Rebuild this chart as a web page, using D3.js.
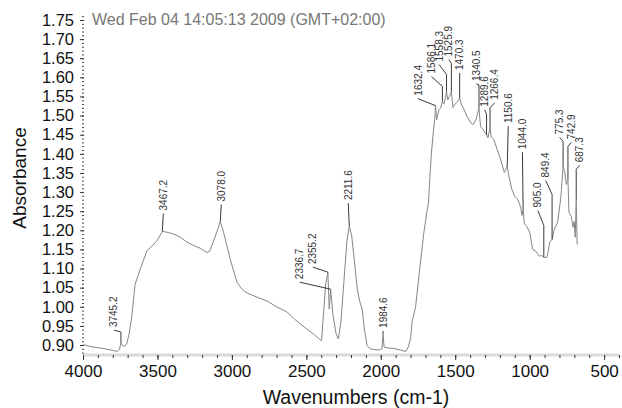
<!DOCTYPE html>
<html>
<head>
<meta charset="utf-8">
<script src="https://cdn.jsdelivr.net/npm/d3@7"></script>
<style>
  body { margin: 0; background: #fff; }
  text { font-family: "Liberation Sans", Arial, Helvetica, sans-serif; }
</style>
</head>
<body>
<svg id="main-svg" width="622" height="408"></svg>
<script>
// spectrum: [wavenumber cm-1, absorbance]
const spectrum = [
  [4000, 0.901], [3960, 0.897], [3920, 0.894], [3880, 0.892], [3840, 0.889], [3800, 0.886],
  [3770, 0.883], [3755, 0.889], [3745.2, 0.905], [3735, 0.899], [3720, 0.896], [3705, 0.905],
  [3690, 0.929], [3672, 0.976], [3650, 1.059], [3616, 1.098], [3571, 1.146], [3504, 1.172],
  [3467.2, 1.197], [3437, 1.195], [3390, 1.190], [3347, 1.182], [3302, 1.169], [3255, 1.160],
  [3213, 1.153], [3168, 1.142], [3150, 1.145], [3123, 1.172], [3090, 1.208], [3078.0, 1.223],
  [3056, 1.195], [3011, 1.124], [2966, 1.064], [2930, 1.045], [2898, 1.036], [2830, 1.025],
  [2764, 1.015], [2700, 1.000], [2629, 0.986], [2580, 0.968], [2540, 0.955], [2490, 0.940],
  [2452, 0.929], [2420, 0.918], [2398, 0.911], [2385, 0.980], [2370, 1.060], [2355.2, 1.088],
  [2346, 0.994], [2336.7, 1.046], [2322, 0.981], [2300, 0.929], [2285, 0.916], [2268, 0.960],
  [2248, 1.064], [2228, 1.170], [2211.6, 1.211], [2195, 1.185], [2175, 1.111], [2158, 1.046],
  [2140, 1.012], [2125, 0.994], [2110, 0.942], [2092, 0.898], [2070, 0.890], [2040, 0.888],
  [2010, 0.887], [1992, 0.890], [1984.6, 0.929], [1978, 0.895], [1950, 0.892], [1912, 0.891],
  [1870, 0.887], [1833, 0.883], [1815, 0.895], [1800, 0.916], [1790, 0.960], [1766, 1.000],
  [1739, 1.098], [1712, 1.190], [1690, 1.250], [1680, 1.270], [1671, 1.333], [1660, 1.402],
  [1645, 1.465], [1638, 1.490], [1632.4, 1.526], [1625, 1.489], [1610, 1.515], [1598, 1.520],
  [1586.1, 1.537], [1575, 1.531], [1565, 1.549], [1558.3, 1.563], [1550, 1.541], [1540, 1.549],
  [1525.9, 1.563], [1515, 1.521], [1500, 1.531], [1485, 1.536], [1470.3, 1.546], [1460, 1.531],
  [1440, 1.515], [1420, 1.497], [1395, 1.481], [1382, 1.476], [1360, 1.490], [1340.5, 1.520],
  [1330, 1.471], [1312, 1.463], [1300, 1.455], [1289.6, 1.450], [1280, 1.442], [1266.4, 1.468],
  [1258, 1.444], [1240, 1.437], [1218, 1.411], [1195, 1.385], [1170, 1.351], [1150.6, 1.368],
  [1140, 1.343], [1120, 1.307], [1100, 1.289], [1080, 1.281], [1060, 1.260], [1052, 1.239],
  [1044.0, 1.255], [1036, 1.218], [1020, 1.210], [1000, 1.195], [980, 1.150], [958, 1.145],
  [935, 1.132], [920, 1.135], [905.0, 1.129], [885, 1.129], [875, 1.145], [865, 1.169],
  [849.4, 1.176], [835, 1.202], [812, 1.221], [790, 1.288], [775.3, 1.367], [765, 1.354],
  [754, 1.320], [742.9, 1.333], [736, 1.247], [720, 1.236], [709, 1.208], [701, 1.223],
  [694, 1.182], [687.3, 1.281], [681, 1.163]
];

// labelled peaks
const peaks = [3745.2, 3467.2, 3078.0, 2355.2, 2336.7, 2211.6, 1984.6, 1632.4, 1586.1, 1558.3,
  1525.9, 1470.3, 1340.5, 1289.6, 1266.4, 1150.6, 1044.0, 905.0, 849.4, 775.3, 742.9, 687.3];

// where each label sits relative to its peak (px): [dx, dy of text foot, elbow height]
const peakLayout = [
  [-7, -16, 11], [1, -21, 0], [1, -20, 0], [-15, -9, 1], [-31, -10, 0], [-1, -26, 0],
  [0, -6, 0], [-17.5, -10, 0], [-11, -28, 15], [-7.5, -30, 17], [-2.4, -35, 28], [0, -28, 0],
  [-2.6, -27, 23], [-1.8, -28, 20], [4.7, -28, 20], [1, -43, 0], [-0.7, -60, 0], [-6, -50, 32],
  [-6.4, -62, 45], [-3.5, -32, 25], [3.3, -40, 33], [3.4, -37, 30]
];

const xTickValues = d3.range(4000, 499, -500);
const xMinorTicks = d3.range(4000, 399, -100);
const yTickValues = d3.range(0, 18).map(i => 0.90 + i * 0.05);
const yMinorTicks = d3.range(0, 90).map(i => 0.88 + i * 0.01);

const titleText = 'Wed Feb 04 14:05:13 2009 (GMT+02:00)';

const svg = d3.select('#main-svg');

const x = d3.scaleLinear().domain([4000, 400]).range([83, 619]);
const y = d3.scaleLinear().domain([0.90, 1.75]).range([345, 20]);
const baseY = 355;

// absorbance at a given wavenumber (spectrum runs high -> low)
function absAt(w) {
  for (let i = 1; i < spectrum.length; i++) {
    const a = spectrum[i - 1], b = spectrum[i];
    if (w <= a[0] && w >= b[0]) {
      const t = (a[0] - w) / (a[0] - b[0]);
      return a[1] + t * (b[1] - a[1]);
    }
  }
  return spectrum[spectrum.length - 1][1];
}

// x axis: light band with small dark ticks
svg.append('line')
  .attr('x1', x(4000)).attr('x2', x(400))
  .attr('y1', baseY).attr('y2', baseY)
  .attr('stroke', '#dadada').attr('stroke-width', 3);

svg.append('g')
  .attr('transform', `translate(0,${baseY})`)
  .call(d3.axisBottom(x).tickValues(xMinorTicks).tickSize(3).tickFormat(''))
  .call(g => g.select('.domain').remove())
  .call(g => g.selectAll('line').attr('stroke', '#333'));

const xAxis = svg.append('g')
  .attr('transform', `translate(0,${baseY})`)
  .call(d3.axisBottom(x).tickValues(xTickValues).tickSize(5).tickPadding(5).tickFormat(d3.format('d')))
  .call(g => g.select('.domain').remove());
xAxis.selectAll('line').attr('stroke', '#333');
xAxis.selectAll('text')
  .attr('font-size', 17).attr('fill', '#111')
  .style('font-family', '"Liberation Sans", Arial, sans-serif');

// y axis: dotted look from dense minor ticks
svg.append('g')
  .attr('transform', 'translate(84,0)')
  .call(d3.axisLeft(y).tickValues(yMinorTicks.filter(v => y(v) <= baseY && y(v) >= 13)).tickSize(2).tickFormat(''))
  .call(g => g.select('.domain').remove())
  .call(g => g.selectAll('line').attr('stroke', '#444'));

const yAxis = svg.append('g')
  .attr('transform', 'translate(84,0)')
  .call(d3.axisLeft(y).tickValues(yTickValues).tickSize(4).tickPadding(6).tickFormat(d3.format('.2f')))
  .call(g => g.select('.domain').remove());
yAxis.selectAll('line').attr('stroke', '#333');
yAxis.selectAll('text')
  .attr('font-size', 16.5).attr('fill', '#111')
  .style('font-family', '"Liberation Sans", Arial, sans-serif');

// spectrum
svg.append('path')
  .datum(spectrum)
  .attr('fill', 'none')
  .attr('stroke', '#858585')
  .attr('stroke-width', 1)
  .attr('d', d3.line().x(d => x(d[0])).y(d => y(d[1])));

// peak labels
const peakG = svg.append('g');
peaks.forEach((w, i) => {
  const [dx, dy, elbow] = peakLayout[i];
  const px = x(w), py = y(absAt(w));
  const tx = px + dx, ty = py + dy;
  const pts = elbow > 0
    ? [[tx, ty + 3], [px, py - elbow], [px, py]]
    : [[tx, ty + 3], [px, py]];
  peakG.append('path')
    .attr('d', d3.line()(pts))
    .attr('fill', 'none')
    .attr('stroke', '#222')
    .attr('stroke-width', 0.9);
  peakG.append('text')
    .attr('transform', `translate(${tx},${ty}) rotate(-90)`)
    .attr('dy', '0.35em')
    .attr('font-size', 10)
    .attr('fill', '#333')
    .text(w.toFixed(1));
});

// title and axis titles
svg.append('text')
  .attr('x', 92).attr('y', 25)
  .attr('font-size', 16)
  .attr('fill', '#777')
  .text(titleText);

svg.append('text')
  .attr('x', 356).attr('y', 404)
  .attr('text-anchor', 'middle')
  .attr('font-size', 19.5)
  .attr('fill', '#111')
  .text('Wavenumbers (cm-1)');

svg.append('text')
  .attr('transform', 'translate(26,178) rotate(-90)')
  .attr('text-anchor', 'middle')
  .attr('font-size', 19)
  .attr('fill', '#111')
  .text('Absorbance');
</script>
</body>
</html>
